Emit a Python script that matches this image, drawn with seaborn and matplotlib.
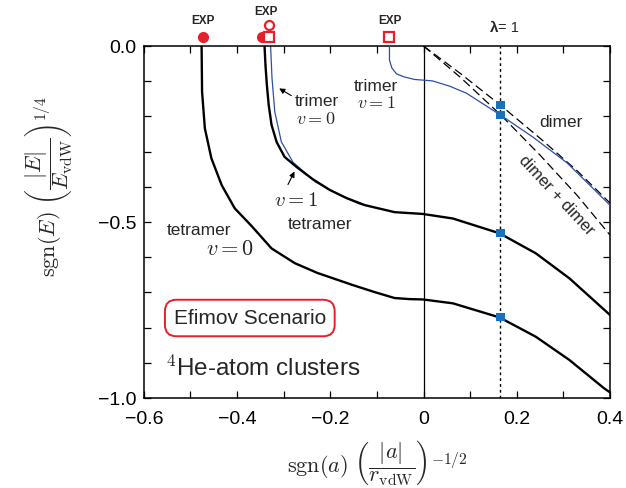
import numpy as np
import pandas as pd
import matplotlib
matplotlib.use("Agg")
import matplotlib.pyplot as plt
import seaborn as sns
from matplotlib.ticker import MultipleLocator, FixedLocator, FixedFormatter

sns.set_style("ticks")
plt.rcParams['font.family'] = ['Liberation Sans', 'DejaVu Sans']
plt.rcParams['mathtext.fontset'] = 'cm'

# ---------------- data ----------------
tet0_x = [-0.476, -0.475, -0.469, -0.455, -0.433, -0.405, -0.369, -0.326, -0.276, -0.227,
          -0.152, -0.105, -0.062, -0.030, -0.001, 0.063, 0.163, 0.241, 0.313, 0.387, 0.400]
tet0_y = [0.0, -0.130, -0.234, -0.319, -0.395, -0.461, -0.511, -0.575, -0.617, -0.645,
          -0.679, -0.699, -0.716, -0.719, -0.720, -0.731, -0.771, -0.826, -0.892, -0.972, -0.984]

tet1_x = [-0.341, -0.339, -0.336, -0.332, -0.326, -0.315, -0.298, -0.272, -0.238, -0.201,
          -0.165, -0.126, -0.062, -0.002, 0.063, 0.163, 0.241, 0.313, 0.400]
tet1_y = [0.0, -0.054, -0.111, -0.168, -0.224, -0.273, -0.315, -0.344, -0.378, -0.409,
          -0.432, -0.452, -0.472, -0.477, -0.490, -0.532, -0.589, -0.660, -0.764]

tri0_x = [-0.328, -0.325, -0.319, -0.305, -0.280, -0.232, -0.176, -0.137, -0.126]
tri0_y = [0.0, -0.091, -0.187, -0.272, -0.330, -0.386, -0.426, -0.449, -0.452]

tri1_x = [-0.073, -0.073, -0.068, -0.058, -0.041, -0.019, 0.000, 0.019, 0.056, 0.092,
          0.165, 0.235, 0.308, 0.400]
tri1_y = [0.0, -0.040, -0.062, -0.079, -0.088, -0.095, -0.097, -0.099, -0.114, -0.134,
          -0.196, -0.259, -0.332, -0.452]

dimer_x = [0.0, 0.08, 0.165, 0.25, 0.33, 0.40]
dimer_y = [0.0, -0.079, -0.168, -0.262, -0.355, -0.446]
dd_x = [0.0, 0.08, 0.165, 0.25, 0.33, 0.40]
dd_y = [0.0, -0.090, -0.195, -0.310, -0.425, -0.537]

lam_x = 0.165
lam_pts_y = [-0.168, -0.196, -0.531, -0.770]

exp_fc_x = [-0.473, -0.347]          # filled circles
exp_oc_x = [-0.332]                  # open circle (raised)
exp_sq_x = [-0.332, -0.073]          # open squares

xtick_vals = [-0.6, -0.4, -0.2, 0.0, 0.2, 0.4]
xtick_labels = ['\u22120.6', '\u22120.4', '\u22120.2', '0', '0.2', '0.4']
ytick_vals = [0.0, -0.5, -1.0]
ytick_labels = ['0.0', '\u22120.5', '\u22121.0']

# ---------------- figure ----------------
fig = plt.figure(figsize=(6.26, 4.88), dpi=100)
ax = fig.add_axes([0.2297, 0.1844, 0.7447, 0.7213])

RED = '#e5202a'
BLUE = '#2c4fa6'
SQ = '#1a70c0'

def line(x, y, **kw):
    df = pd.DataFrame({'x': x, 'y': y})
    sns.lineplot(data=df, x='x', y='y', sort=False, estimator=None, ax=ax, **kw)

line(dimer_x, dimer_y, color='black', lw=0.9, dashes=(7, 3.5), zorder=2)
line(dd_x, dd_y, color='black', lw=0.9, dashes=(7, 3.5), zorder=2)
line(tri0_x, tri0_y, color=BLUE, lw=0.9, zorder=2)
line(tri1_x, tri1_y, color=BLUE, lw=0.9, zorder=3)
line(tet0_x, tet0_y, color='black', lw=1.7, zorder=4)
line(tet1_x, tet1_y, color='black', lw=1.7, zorder=4)

ax.axvline(0.0, color='black', lw=0.9, zorder=1)
ax.axvline(lam_x, color='black', lw=1.0, ls=(0, (2, 2.2)), zorder=1)

sns.scatterplot(x=[lam_x] * len(lam_pts_y), y=lam_pts_y, marker='s', s=38,
                color=SQ, edgecolor='none', ax=ax, zorder=6)

# EXP markers above the frame
ax.plot(exp_fc_x, [0.026] * len(exp_fc_x), 'o', color=RED, ms=7, clip_on=False, zorder=7)
ax.plot(exp_oc_x, [0.060], 'o', mfc='white', mec=RED, mew=1.6, ms=6.5, clip_on=False, zorder=7)
ax.plot(exp_sq_x, [0.026] * len(exp_sq_x), 's', mfc='white', mec=RED, mew=1.6, ms=6.5,
        clip_on=False, zorder=8)
for xx, yy in [(-0.473, 0.070), (-0.337, 0.097), (-0.073, 0.070)]:
    ax.text(xx, yy, 'EXP', ha='center', va='center', fontsize=8.5, fontweight='bold',
            clip_on=False)

ax.text(0.151, 0.050, '\u03bb', ha='center', va='center', fontsize=11, fontweight='bold',
        clip_on=False)
ax.text(0.160, 0.050, '= 1', ha='left', va='center', fontsize=10.5, clip_on=False)

# axes style
ax.set_xlim(-0.6, 0.4)
ax.set_ylim(-1.0, 0.0)
ax.xaxis.set_major_locator(FixedLocator(xtick_vals))
ax.xaxis.set_major_formatter(FixedFormatter(xtick_labels))
ax.xaxis.set_minor_locator(MultipleLocator(0.1))
ax.yaxis.set_major_locator(FixedLocator(ytick_vals))
ax.yaxis.set_major_formatter(FixedFormatter(ytick_labels))
ax.yaxis.set_minor_locator(MultipleLocator(0.1))
ax.tick_params(which='both', direction='in', top=True, right=True, length=5, width=0.9,
               labelsize=14, colors='black', pad=5)
ax.tick_params(axis='x', which='both', pad=9)
for sp in ax.spines.values():
    sp.set_linewidth(1.1)
    sp.set_color('black')
    sp.set_visible(True)

ax.set_xlabel(r'$\mathrm{sgn}(a)\ \left(\dfrac{|a|}{r_{\mathrm{vdW}}}\right)^{-1/2}$', fontsize=16)
ax.xaxis.set_label_coords(0.5, -0.115)
ax.set_ylabel(r'$\mathrm{sgn}(E)\ \left(\dfrac{|E|}{E_{\mathrm{vdW}}}\right)^{1/4}$', fontsize=16)
ax.yaxis.set_label_coords(-0.147, 0.60)

# annotations (pixel helper for placement)
def P(px, py):
    return (-0.6 + (px - 143.8) / 467.0, -(py - 46.0) / 352.0)

fs = 12.5
ax.text(*P(317, 101), 'trimer', ha='center', va='center', fontsize=fs)
ax.text(*P(316, 119), r'$v = 0$', ha='center', va='center', fontsize=13)
ax.annotate('', xy=P(277, 87), xytext=P(294, 97),
            arrowprops=dict(arrowstyle='-|>', color='black', lw=0.8, mutation_scale=8))
ax.text(*P(376, 86), 'trimer', ha='center', va='center', fontsize=fs)
ax.text(*P(377, 103), r'$v = 1$', ha='center', va='center', fontsize=13)
ax.text(*P(296, 200), r'$v = 1$', ha='center', va='center', fontsize=15)
ax.text(*P(320, 224), 'tetramer', ha='center', va='center', fontsize=fs)
ax.annotate('', xy=P(296, 169), xytext=P(287, 187),
            arrowprops=dict(arrowstyle='-|>', color='black', lw=0.8, mutation_scale=8))
ax.text(*P(199, 230), 'tetramer', ha='center', va='center', fontsize=fs)
ax.text(*P(230, 249), r'$v = 0$', ha='center', va='center', fontsize=16)
ax.text(*P(562, 122), 'dimer', ha='center', va='center', fontsize=fs)
ax.text(*P(557, 195), 'dimer + dimer', ha='center', va='center', fontsize=12,
        rotation=-47, rotation_mode='anchor')

ax.text(*P(250, 318), 'Efimov Scenario', ha='center', va='center', fontsize=15,
        bbox=dict(boxstyle='round,pad=0.42,rounding_size=0.55', ec=RED, fc='white', lw=1.4))
ax.text(*P(165, 368), r'$^4$He-atom clusters', ha='left', va='center', fontsize=17.5)

fig.savefig('out.png', dpi=100)
